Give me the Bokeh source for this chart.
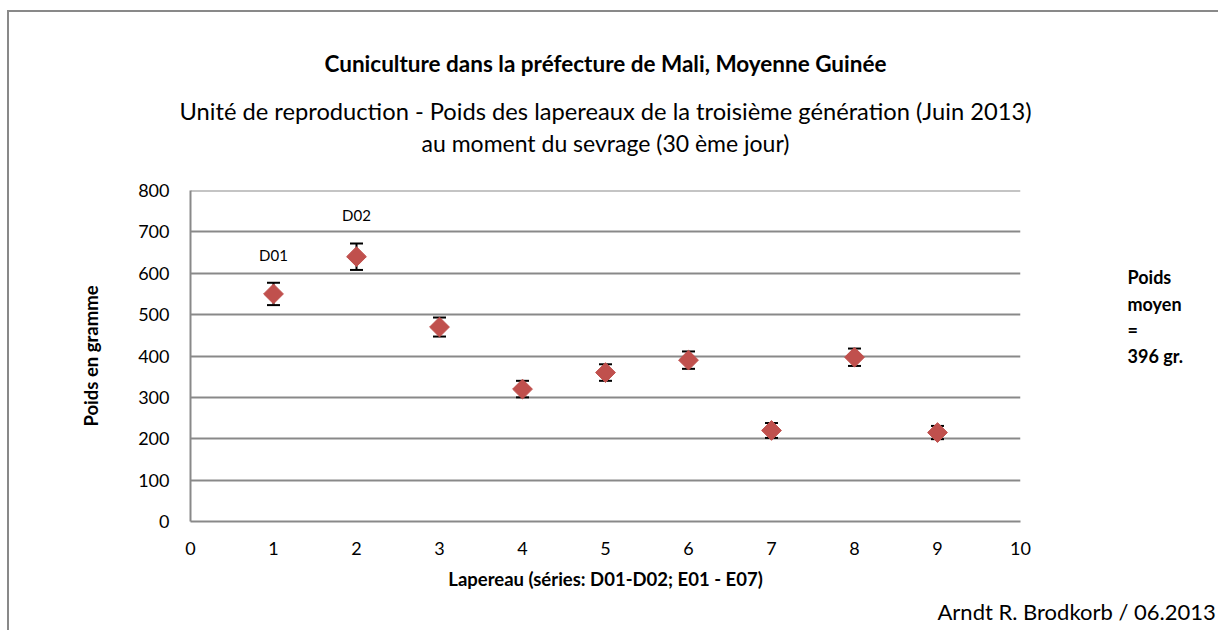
from bokeh.plotting import figure
from bokeh.models import (ColumnDataSource, Range1d, FixedTicker, Whisker, TeeHead,
                          Span, Title, LinearAxis)
from bokeh.core.properties import value
from bokeh.embed import file_html
from bokeh.resources import INLINE

# ---- data ----
lapereau = [1, 2, 3, 4, 5, 6, 7, 8, 9]
poids = [550, 640, 470, 320, 360, 390, 220, 397, 215]
erreur = [27, 32, 23, 20, 20, 21, 18, 21, 16]
etiquettes_x = [1, 2]
etiquettes_y = [550, 640]
etiquettes_err = [27, 32]
etiquettes = ["D01", "D02"]
y_ticks = [0, 100, 200, 300, 400, 500, 600, 700, 800]
x_ticks = [0, 1, 2, 3, 4, 5, 6, 7, 8, 9, 10]
titre = "Cuniculture dans la préfecture de Mali, Moyenne Guinée"
sous_titre_1 = "Unité de reproduction - Poids des lapereaux de la troisième génération (Juin 2013)"
sous_titre_2 = "au moment du sevrage (30 ème jour)"
titre_x = "Lapereau (séries: D01-D02; E01 - E07)"
titre_y = "Poids en gramme"
moyenne = "Poids\nmoyen\n=\n396 gr.\n\u00a0\n\u00a0\n\u00a0"
auteur = "Arndt R. Brodkorb / 06.2013"

FONT = "Lato"
GRID = "#898989"
RED = "#C0504D"

src = ColumnDataSource(dict(
    x=lapereau, y=poids,
    upper=[v + e for v, e in zip(poids, erreur)],
    lower=[v - e for v, e in zip(poids, erreur)],
))
lab_src = ColumnDataSource(dict(
    x=etiquettes_x,
    y=[v + e for v, e in zip(etiquettes_y, etiquettes_err)],
    t=etiquettes,
))

p = figure(width=1211, height=620, output_backend="svg", toolbar_location=None,
           x_range=Range1d(0, 10), y_range=Range1d(0, 800),
           min_border_left=181, min_border_right=200,
           min_border_top=178, min_border_bottom=111)
p.margin = (12, 0, 0, 9)
p.styles = {"box-shadow": "-2px -2px 0px 0px #898989"}
p.outline_line_color = None

# axes
for ax in (p.xaxis[0], p.yaxis[0]):
    ax.axis_line_color = GRID
    ax.axis_line_width = 2
    ax.major_tick_line_color = None
    ax.minor_tick_line_color = None
    ax.major_label_text_font = FONT
    ax.major_label_text_font_size = "18px"
    ax.major_label_text_color = "black"
    ax.axis_label_text_font = FONT
    ax.axis_label_text_font_style = "bold"
    ax.axis_label_text_font_size = "18.5px"
    ax.axis_label_text_color = "black"

p.xaxis.ticker = FixedTicker(ticks=x_ticks)
p.yaxis.ticker = FixedTicker(ticks=y_ticks)
p.xaxis.major_label_standoff = 14
p.yaxis.major_label_standoff = 15
p.xaxis.axis_label = titre_x
p.yaxis.axis_label = titre_y
p.xaxis.axis_label_standoff = 10
p.yaxis.axis_label_standoff = 33

p.xgrid.grid_line_color = None
p.ygrid.grid_line_color = GRID
p.ygrid.grid_line_width = 2
p.add_layout(Span(location=800, dimension="width", line_color=GRID, line_width=2))

# right-hand note as a label-only axis
ra = LinearAxis(ticker=FixedTicker(ticks=[]), axis_line_color=None,
                major_tick_line_color=None, minor_tick_line_color=None,
                major_label_text_font_size="0px",
                axis_label=moyenne, axis_label_orientation="horizontal",
                axis_label_text_font=FONT, axis_label_text_font_style="bold",
                axis_label_text_font_size="18px", axis_label_text_color="black",
                axis_label_text_align="center",
                axis_label_text_line_height=1.19, axis_label_standoff=107)
p.add_layout(ra, "right")

# titles above (innermost first)
p.add_layout(Title(text="\u00a0", text_font=FONT, text_font_size="10px",
                   standoff=19), "above")
p.add_layout(Title(text=sous_titre_2, align="center", text_font=FONT,
                   text_font_size="23px", text_font_style="normal",
                   text_color="black", standoff=2), "above")
p.add_layout(Title(text=sous_titre_1, align="center", text_font=FONT,
                   text_font_size="23.7px", text_font_style="normal",
                   text_color="black", standoff=2), "above")
p.add_layout(Title(text=titre, align="center", text_font=FONT,
                   text_font_size="22.5px", text_font_style="bold",
                   text_color="black", standoff=33), "above")

# footer
p.add_layout(Title(text=auteur, align="left", offset=747, text_font=FONT,
                   text_font_size="22px", text_font_style="normal",
                   text_color="black", standoff=6), "below")

# error bars
w = Whisker(source=src, base="x", upper="upper", lower="lower",
            line_color="black", line_width=2, level="underlay",
            upper_head=TeeHead(size=13, line_width=2, line_color="black"),
            lower_head=TeeHead(size=13, line_width=2, line_color="black"))
p.add_layout(w)

# markers
p.scatter("x", "y", source=src, marker="square", size=14, angle=0.785398,
          fill_color=RED, line_color=RED, line_width=1)

# data labels
p.text("x", "y", text="t", source=lab_src, text_align="center",
       text_baseline="middle", y_offset=-28, text_font=value(FONT),
       text_font_size="15px", text_color="black")

open("out.html", "w").write(file_html(p, INLINE))
